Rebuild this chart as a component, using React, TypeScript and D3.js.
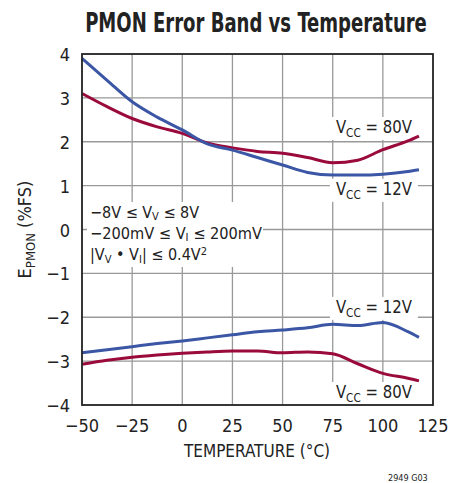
import * as d3 from "d3";
import { useLayoutEffect, useRef, useState } from "react";

// temperature samples (°C)
const temps = [-50, -37.5, -25, -12.5, 0, 12.5, 25, 37.5, 50, 62.5, 75, 87.5, 100, 112.5, 118];

// upper / lower error band limits (%FS)
const vcc12Upper = [3.9, 3.4, 2.91, 2.56, 2.27, 1.95, 1.81, 1.64, 1.47, 1.3, 1.24, 1.24, 1.26, 1.32, 1.36];
const vcc80Upper = [3.1, 2.8, 2.53, 2.34, 2.19, 1.97, 1.86, 1.78, 1.74, 1.64, 1.52, 1.58, 1.82, 2.02, 2.13];
const vcc12Lower = [-2.81, -2.74, -2.67, -2.6, -2.54, -2.47, -2.4, -2.33, -2.29, -2.24, -2.16, -2.19, -2.12, -2.33, -2.46];
const vcc80Lower = [-3.07, -2.98, -2.91, -2.86, -2.82, -2.79, -2.77, -2.77, -2.81, -2.79, -2.83, -3.06, -3.28, -3.39, -3.45];

const xTicks = [-50, -25, 0, 25, 50, 75, 100, 125];
const yTicks = [-4, -3, -2, -1, 0, 1, 2, 3, 4];

const BLUE = "#3a56a5";
const RED = "#9a0a3c";
const FONT = "'DejaVu Sans Condensed', 'DejaVu Sans', sans-serif";
const INK = "#222";

const W = 463;
const H = 483;
const M = { left: 82, right: 433, top: 54, bottom: 405 };

const x = d3.scaleLinear().domain([-50, 125]).range([M.left, M.right]);
const y = d3.scaleLinear().domain([-4, 4]).range([M.bottom, M.top]);

const line = d3
  .line<[number, number]>()
  .x((d) => x(d[0]))
  .y((d) => y(d[1]))
  .curve(d3.curveMonotoneX);

const series = [
  { values: vcc80Upper, color: RED },
  { values: vcc12Upper, color: BLUE },
  { values: vcc12Lower, color: BLUE },
  { values: vcc80Lower, color: RED },
];

const fmt = (n: number) => (n < 0 ? "−" + Math.abs(n) : String(n));

// title squeezed horizontally to the reference's condensed width
const Title = ({ cx, cy, width, children }: { cx: number; cy: number; width: number; children: string }) => {
  const ref = useRef<SVGTextElement>(null);
  const [sx, setSx] = useState(1);
  useLayoutEffect(() => {
    if (ref.current) {
      const w = ref.current.getComputedTextLength();
      if (w > 0) setSx(Math.min(1, width / w));
    }
  }, [width]);
  return (
    <g transform={`translate(${cx},${cy}) scale(${sx},1)`}>
      <text ref={ref} textAnchor="middle" fontSize={27} fontWeight="bold" fill={INK}>
        {children}
      </text>
    </g>
  );
};

const VccLabel = ({ t, v, volts }: { t: number; v: number; volts: string }) => {
  const lx = x(t);
  const ly = y(v);
  return (
    <g>
      <rect x={lx - 6} y={ly - 16} width={88} height={23} fill="white" />
      <text x={lx} y={ly} fontSize={17} fill={INK} textLength={76} lengthAdjust="spacingAndGlyphs">
        V
        <tspan fontSize={12} dy={4}>
          CC
        </tspan>
        <tspan dy={-4}>{` = ${volts}`}</tspan>
      </text>
    </g>
  );
};

export default function App() {
  return (
    <svg width={W} height={H} style={{ display: "block", position: "absolute", left: 0, top: 0 }} fontFamily={FONT}>
      <rect width={W} height={H} fill="white" />
      <Title cx={256} cy={32} width={342}>
        PMON Error Band vs Temperature
      </Title>

      {/* grid */}
      {xTicks.slice(1, -1).map((t) => (
        <line key={"gx" + t} x1={x(t)} x2={x(t)} y1={M.top} y2={M.bottom} stroke="#999" strokeWidth={1.3} />
      ))}
      {yTicks.slice(1, -1).map((v) => (
        <line key={"gy" + v} x1={M.left} x2={M.right} y1={y(v)} y2={y(v)} stroke="#999" strokeWidth={1.3} />
      ))}

      {/* condition text box */}
      <rect x={87} y={202} width={176} height={65} fill="white" />
      <g fontSize={16} fill={INK}>
        <text x={90} y={218}>
          −8V ≤ V<tspan fontSize={11} dy={2}>V</tspan>
          <tspan dy={-2}> ≤ 8V</tspan>
        </text>
        <text x={90} y={239} textLength={172} lengthAdjust="spacingAndGlyphs">
          −200mV ≤ V<tspan fontSize={11} dy={2}>I</tspan>
          <tspan dy={-2}> ≤ 200mV</tspan>
        </text>
        <text x={90} y={260}>
          |V<tspan fontSize={11} dy={3}>V</tspan>
          <tspan dy={-3}> • V</tspan>
          <tspan fontSize={11} dy={3}>I</tspan>
          <tspan dy={-3}>| ≤ 0.4V</tspan>
          <tspan fontSize={11} dy={-5}>2</tspan>
        </text>
      </g>

      <VccLabel t={76.6} v={2.2} volts="80V" />
      <VccLabel t={76.6} v={0.79} volts="12V" />
      <VccLabel t={76.6} v={-1.9} volts="12V" />
      <VccLabel t={76.6} v={-3.84} volts="80V" />

      {/* curves */}
      {series.map((s, i) => (
        <path
          key={i}
          d={line(temps.map((t, j) => [t, s.values[j]]) as [number, number][]) || ""}
          fill="none"
          stroke={s.color}
          strokeWidth={3}
        />
      ))}

      {/* frame */}
      <rect
        x={M.left}
        y={M.top}
        width={M.right - M.left}
        height={M.bottom - M.top}
        fill="none"
        stroke={INK}
        strokeWidth={1.8}
      />

      {/* axes labels */}
      {yTicks.map((v) => (
        <text key={"yl" + v} x={70} y={y(v) + 7} textAnchor="end" fontSize={18} fill={INK}>
          {fmt(v)}
        </text>
      ))}
      {xTicks.map((t) => (
        <text key={"xl" + t} x={x(t)} y={432} textAnchor="middle" fontSize={18} fill={INK}>
          {fmt(t)}
        </text>
      ))}
      <text x={257} y={457} textAnchor="middle" fontSize={17} fill={INK}>
        TEMPERATURE (°C)
      </text>
      <text transform={`translate(31, ${y(0)}) rotate(-90)`} textAnchor="middle" fontSize={18} fill={INK}>
        E<tspan fontSize={13} dy={4}>PMON</tspan>
        <tspan dy={-4}> (%FS)</tspan>
      </text>
      <text x={388} y={481} fontSize={9} fill={INK}>
        2949 G03
      </text>
    </svg>
  );
}
